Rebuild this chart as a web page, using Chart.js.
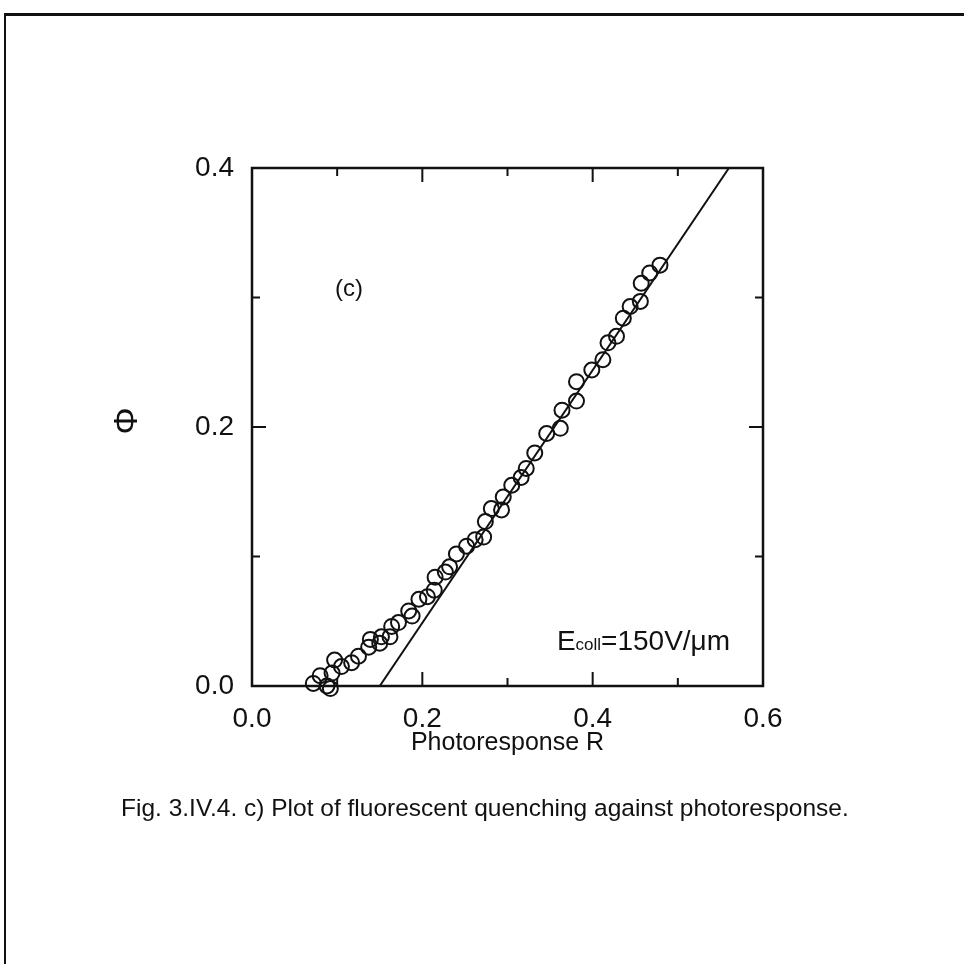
<!DOCTYPE html>
<html>
<head>
<meta charset="utf-8">
<script src="https://cdn.jsdelivr.net/npm/chart.js@4.4.1/dist/chart.umd.min.js"></script>
<style>
  html, body { margin: 0; padding: 0; background: #fff; }
  #wrap { position: relative; width: 964px; height: 964px; overflow: hidden; }
  #page { position: absolute; left: 4px; top: 13px; width: 980px; height: 980px;
          border-left: 2px solid #111; border-top: 3px solid #111; }
  #chart { position: absolute; left: 0; top: 0; }
  #caption { position: absolute; left: 121px; top: 794px; font-family: "Liberation Sans", Arial, sans-serif;
             font-size: 24.5px; color: #111; white-space: nowrap; }
</style>
</head>
<body>
<div id="wrap">
  <div id="page"></div>
  <canvas id="chart" width="964" height="964"></canvas>
  <div id="caption">Fig. 3.IV.4. c) Plot of fluorescent quenching against photoresponse.</div>
</div>
<script>
// measured points (photoresponse R, quenching phi)
var rValues = [0.072, 0.080, 0.088, 0.092, 0.094, 0.097, 0.105, 0.117, 0.125, 0.137,
               0.139, 0.150, 0.152, 0.162, 0.164, 0.172, 0.184, 0.188, 0.196, 0.206,
               0.214, 0.215, 0.227, 0.232, 0.240, 0.252, 0.262, 0.272, 0.274, 0.281,
               0.293, 0.295, 0.305, 0.316, 0.322, 0.332, 0.346, 0.362, 0.364, 0.381,
               0.381, 0.399, 0.412, 0.418, 0.428, 0.436, 0.444, 0.456, 0.457, 0.467,
               0.479];
var phiValues = [0.002, 0.008, 0.000, -0.002, 0.010, 0.020, 0.015, 0.018, 0.023, 0.030,
                 0.036, 0.033, 0.038, 0.038, 0.046, 0.049, 0.058, 0.054, 0.067, 0.069,
                 0.074, 0.084, 0.088, 0.092, 0.102, 0.108, 0.113, 0.115, 0.127, 0.137,
                 0.136, 0.146, 0.155, 0.161, 0.168, 0.180, 0.195, 0.199, 0.213, 0.220,
                 0.235, 0.244, 0.252, 0.265, 0.270, 0.284, 0.293, 0.297, 0.311, 0.319,
                 0.325];

// straight line fit, drawn between its two ends
var fitR = [0.150, 0.560];
var fitPhi = [0.0, 0.4];

var xTickLabels = ['0.0', '0.2', '0.4', '0.6'];
var yTickLabels = ['0.0', '0.2', '0.4'];

var FONT = '"Liberation Sans", Arial, Helvetica, sans-serif';

var pts = rValues.map(function (r, i) { return {x: r, y: phiValues[i]}; });
var fit = fitR.map(function (r, i) { return {x: r, y: fitPhi[i]}; });

function isMajor(v) { return Math.round(v * 10) % 2 === 0; }

var extras = {
    id: 'extras',
    afterDatasetsDraw: function (chart) {
        var ctx = chart.ctx;
        var a = chart.chartArea;
        var x = chart.scales.x, y = chart.scales.y;
        ctx.save();
        ctx.strokeStyle = '#111';
        ctx.lineWidth = 2.5;
        ctx.strokeRect(a.left, a.top, a.right - a.left, a.bottom - a.top);

        // inward ticks on all four sides
        ctx.lineWidth = 2;
        ctx.beginPath();
        x.ticks.forEach(function (t) {
            var px = x.getPixelForValue(t.value);
            var len = isMajor(t.value) ? 14 : 8;
            ctx.moveTo(px, a.bottom); ctx.lineTo(px, a.bottom - len);
            ctx.moveTo(px, a.top); ctx.lineTo(px, a.top + len);
        });
        y.ticks.forEach(function (t) {
            var py = y.getPixelForValue(t.value);
            var len = isMajor(t.value) ? 14 : 8;
            ctx.moveTo(a.left, py); ctx.lineTo(a.left + len, py);
            ctx.moveTo(a.right, py); ctx.lineTo(a.right - len, py);
        });
        ctx.stroke();

        ctx.fillStyle = '#111';
        // panel letter
        ctx.font = '24px ' + FONT;
        ctx.textAlign = 'center';
        ctx.textBaseline = 'middle';
        ctx.fillText('(c)', x.getPixelForValue(0.114), y.getPixelForValue(0.306));

        // field annotation
        var ex = x.getPixelForValue(0.358), ey = y.getPixelForValue(0.028);
        ctx.textAlign = 'left';
        ctx.textBaseline = 'alphabetic';
        ctx.font = '28px ' + FONT;
        ctx.fillText('E', ex, ey);
        ex += ctx.measureText('E').width;
        ctx.font = '17px ' + FONT;
        ctx.fillText('coll', ex, ey);
        ex += ctx.measureText('coll').width;
        ctx.font = '28px ' + FONT;
        ctx.fillText('=150V/\u03bcm', ex, ey);

        // axis titles
        ctx.font = '25px ' + FONT;
        ctx.textAlign = 'center';
        ctx.textBaseline = 'middle';
        ctx.fillText('Photoresponse R', (a.left + a.right) / 2, 743);

        ctx.translate(128, 421);
        ctx.rotate(-Math.PI / 2);
        ctx.font = '34px ' + FONT;
        ctx.fillText('\u03a6', 0, 0);
        ctx.restore();
    }
};

var chart = new Chart(document.getElementById('chart').getContext('2d'), {
    type: 'scatter',
    data: {
        datasets: [{
            label: 'data',
            data: pts,
            showLine: false,
            pointStyle: 'circle',
            pointRadius: 7.5,
            pointHoverRadius: 7.5,
            pointBorderWidth: 2,
            pointBorderColor: '#111',
            pointBackgroundColor: 'rgba(0,0,0,0)',
            clip: false
        }, {
            label: 'fit',
            data: fit,
            showLine: true,
            pointRadius: 0,
            borderColor: '#111',
            borderWidth: 2,
            fill: false
        }]
    },
    plugins: [extras],
    options: {
        responsive: false,
        animation: false,
        layout: { padding: { left: 152, right: 201, top: 168, bottom: 218 } },
        plugins: { legend: { display: false }, tooltip: { enabled: false } },
        scales: {
            x: {
                type: 'linear', min: 0, max: 0.6,
                grid: { display: false, drawTicks: false },
                border: { display: false },
                afterFit: function (s) { s.height = 60; },
                ticks: {
                    stepSize: 0.1, autoSkip: false, maxRotation: 0, padding: 16,
                    color: '#111', font: { family: FONT, size: 28 },
                    callback: function (v) {
                        return isMajor(v) ? xTickLabels[Math.round(v * 5)] : '';
                    }
                }
            },
            y: {
                type: 'linear', min: 0, max: 0.4,
                grid: { display: false, drawTicks: false },
                border: { display: false },
                afterFit: function (s) { s.width = 100; },
                ticks: {
                    stepSize: 0.1, autoSkip: false, padding: 18,
                    color: '#111', font: { family: FONT, size: 28 },
                    callback: function (v) {
                        return isMajor(v) ? yTickLabels[Math.round(v * 5)] : '';
                    }
                }
            }
        }
    }
});
</script>
</body>
</html>
